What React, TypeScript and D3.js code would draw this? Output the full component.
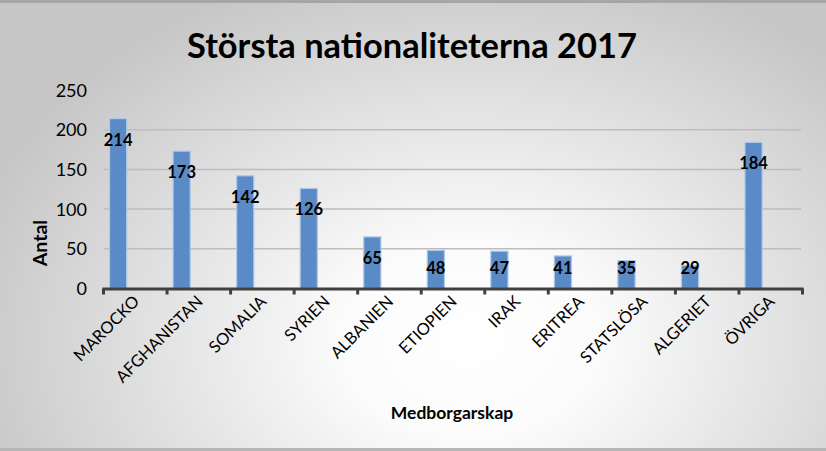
import React from "react";
import * as d3 from "d3";

const categories = ["MAROCKO", "AFGHANISTAN", "SOMALIA", "SYRIEN", "ALBANIEN", "ETIOPIEN", "IRAK", "ERITREA", "STATSLÖSA", "ALGERIET", "ÖVRIGA"];
const values = [214, 173, 142, 126, 65, 48, 47, 41, 35, 29, 184];
const yTicks = [0, 50, 100, 150, 200, 250];
const gridTicks = [50, 100, 150, 200];
const title = "Största nationaliteterna 2017";
const xTitle = "Medborgarskap";
const yTitle = "Antal";

const W = 826;
const H = 451;
const FONT = "Lato, 'Open Sans', sans-serif";

export default function App() {
  const x = d3.scaleBand<string>().domain(categories).range([103.5, 802.5]).paddingInner(0).paddingOuter(0);
  const y = d3.scaleLinear().domain([0, 250]).range([288.5, 90]);
  const bw = x.bandwidth();
  const y0 = y(0);
  const ticksX = categories.map((c) => x(c) as number).concat([x.range()[1]]);

  return (
    <svg width={W} height={H} style={{ position: "absolute", left: 0, top: 0, display: "block" }}>
      <defs>
        <radialGradient id="bg" gradientUnits="userSpaceOnUse" cx={470} cy={340} r={520} gradientTransform="translate(470 340) scale(1 0.75) translate(-470 -340)">
          <stop offset="0%" stopColor="#ffffff" />
          <stop offset="25%" stopColor="#fbfbfb" />
          <stop offset="100%" stopColor="#c6c6c6" />
        </radialGradient>
      </defs>
      <rect x={0} y={0} width={W} height={H} fill="url(#bg)" />
      <rect x={0} y={0} width={W} height={3} fill="#a6a6a6" />
      <rect x={0} y={H - 3} width={W} height={3} fill="#b5b5b5" />

      <text x={412} y={58} textAnchor="middle" fontFamily={FONT} fontWeight={700} fontSize={34} fill="#000" textLength={450} lengthAdjust="spacingAndGlyphs">
        {title}
      </text>

      {gridTicks.map((t) => (
        <line key={t} x1={104} x2={801} y1={y(t)} y2={y(t)} stroke="#bdbdbd" strokeWidth={1.5} />
      ))}

      {yTicks.map((t) => (
        <text key={t} x={87} y={y(t) + 6.5} textAnchor="end" fontFamily={FONT} fontSize={18} fill="#000">
          {t}
        </text>
      ))}

      {categories.map((c, i) => {
        const bx = (x(c) as number) + bw * 0.095;
        const bwid = bw * 0.27;
        return (
          <rect key={c} x={bx} y={y(values[i])} width={bwid} height={y0 - y(values[i])} fill="#5b8bc7" stroke="#afc8e8" strokeWidth={1.2} />
        );
      })}

      <line x1={102.5} x2={803.5} y1={y0 + 0.5} y2={y0 + 0.5} stroke="#404040" strokeWidth={3} />
      {ticksX.map((tx, i) => (
        <line key={i} x1={tx} x2={tx} y1={y0} y2={y0 + 6} stroke="#404040" strokeWidth={3} />
      ))}

      {categories.map((c, i) => {
        const cx = (x(c) as number) + bw * 0.095 + (bw * 0.27) / 2;
        const cy = Math.min(y(values[i]) + 21, y0 - 21);
        return (
          <text key={c} x={cx} y={cy + 6} textAnchor="middle" fontFamily={FONT} fontWeight={700} fontSize={16.5} fill="#000">
            {values[i]}
          </text>
        );
      })}

      {categories.map((c) => {
        const cx = (x(c) as number) + bw / 2 + 5;
        const cy = y0 + 14;
        return (
          <text key={c} transform={`translate(${cx},${cy}) rotate(-45)`} textAnchor="end" fontFamily={FONT} fontSize={16.5} fill="#000">
            {c}
          </text>
        );
      })}

      <text transform={`translate(47,243) rotate(-90)`} textAnchor="middle" fontFamily={FONT} fontWeight={700} fontSize={19.5} fill="#000">
        {yTitle}
      </text>
      <text x={452} y={419} textAnchor="middle" fontFamily={FONT} fontWeight={700} fontSize={17.5} fill="#000">
        {xTitle}
      </text>
    </svg>
  );
}
